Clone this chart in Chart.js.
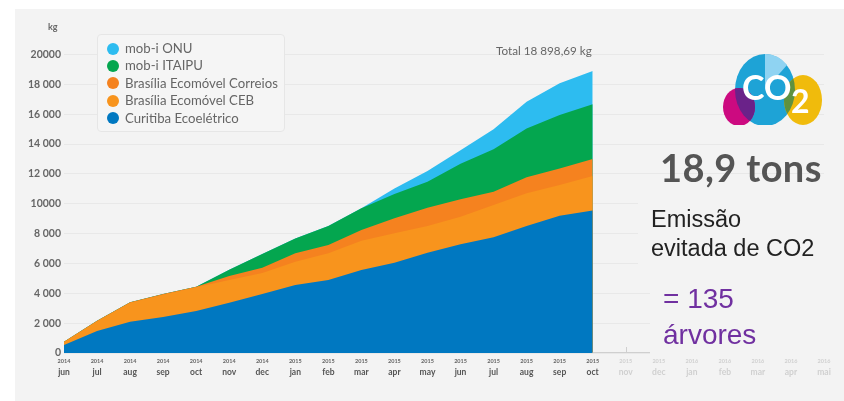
<!DOCTYPE html>
<html lang="pt">
<head>
<meta charset="utf-8">
<title>Emissão evitada de CO2</title>
<script src="https://cdn.jsdelivr.net/npm/chart.js@4"></script>
<style>
  html, body { margin: 0; padding: 0; background: #fff; }
  #page { position: relative; width: 844px; height: 401px; overflow: hidden; font-family: Lato, sans-serif; filter: blur(0.35px); }
  #panel { position: absolute; left: 15px; top: 9px; right: 0; bottom: 0; background: #f3f3f3; }
  #wrap { position: absolute; left: 0; top: 0; width: 844px; height: 401px; }
  .abs { position: absolute; white-space: nowrap; }
  #legend { position: absolute; left: 97px; top: 34px; width: 188px; height: 98px; box-sizing: border-box;
            background: #f5f5f5; border: 1px solid #e6e6e6; border-radius: 4px; padding-top: 5px; }
  #legend div { position: relative; height: 17.4px; line-height: 17.4px; padding-left: 27px; font-size: 13.2px; color: #666; white-space: nowrap; }
  #legend i { position: absolute; left: 8.5px; top: 2.7px; width: 12px; height: 12px; border-radius: 50%; }
  .cover { position: absolute; background: #f3f3f3; }
</style>
</head>
<body>
<div id="page">
  <div id="panel"></div>
  <div id="wrap"><canvas id="chart" width="844" height="401"></canvas></div>

  <div class="abs" style="left:48px;top:21px;font-size:9px;font-weight:700;color:#666">kg</div>
  <div class="abs" style="left:496px;top:43px;font-size:11.7px;color:#666">Total 18 898,69 kg</div>
  <div id="legend"></div>

  <svg class="abs" style="left:715px;top:45px" width="120" height="90" viewBox="715 45 120 90">
    <defs>
      <clipPath id="cloud"><rect x="715" y="45" width="120" height="80"/></clipPath>
      <clipPath id="inBlue"><ellipse cx="765" cy="90" rx="30" ry="36"/></clipPath>
    </defs>
    <g clip-path="url(#cloud)">
      <ellipse cx="765" cy="90" rx="30" ry="36" fill="#1ea3d6"/>
      <path d="M765 90 L765 54 A30 36 0 0 1 787 65 Z" fill="#8fd3f2"/>
      <ellipse cx="739" cy="107" rx="16" ry="19" fill="#cc0a80"/>
      <ellipse cx="803" cy="100" rx="19" ry="25" fill="#f0bb0c"/>
      <g clip-path="url(#inBlue)">
        <ellipse cx="739" cy="107" rx="16" ry="19" fill="#6a2289"/>
        <ellipse cx="803" cy="100" rx="19" ry="25" fill="#5f9140"/>
      </g>
    </g>
    <text x="742" y="100" font-family="Lato, sans-serif" font-size="34" font-weight="700" fill="#fff">CO</text>
    <text x="791" y="113" font-family="Lato, sans-serif" font-size="32" font-weight="700" fill="#fff">2</text>
  </svg>

  <div class="abs" style="left:660px;top:144px;font-size:38px;font-weight:700;letter-spacing:.4px;color:#555">18,9 tons</div>

  <div class="cover" style="left:638px;top:195px;width:194px;height:73px"></div>
  <div class="cover" style="left:650px;top:272px;width:180px;height:86px"></div>
  <div class="abs" style="left:651px;top:205px;font:23.5px/29px 'Liberation Sans', sans-serif;color:#222">Emissão<br>evitada de CO2</div>
  <div class="abs" style="left:663px;top:281px;font:28px/36px 'Liberation Sans', sans-serif;color:#7030a0">= 135<br>árvores</div>
</div>

<script>
const months = ['jun','jul','aug','sep','oct','nov','dec','jan','feb','mar','apr','may','jun','jul','aug','sep','oct','nov','dec','jan','feb','mar','apr','mai'];
const years = ['2014','2014','2014','2014','2014','2014','2014','2015','2015','2015','2015','2015','2015','2015','2015','2015','2015','2015','2015','2016','2016','2016','2016','2016'];
const yTickLabels = ['0','2 000','4 000','6 000','8 000','10000','12 000','14 000','16 000','18 000','20000'];

const curitiba = [535,1470,2100,2410,2810,3370,3950,4555,4890,5560,6050,6720,7280,7750,8510,9200,9540];
const ceb = [205,660,1260,1500,1590,1520,1415,1565,1790,1965,1970,1790,1850,2170,2190,2060,2320];
const correios = [20,30,40,40,40,270,350,560,560,715,1005,1225,1170,890,1070,1110,1140];
const itaipu = [0,0,0,0,0,410,915,1000,1270,1455,1625,1745,2380,2840,3280,3580,3660];
const onu = [0,0,0,0,0,0,0,0,0,10,380,720,900,1340,1790,2120,2238];

// top of the stack first, as in the legend
const legendNames = ['mob-i ONU','mob-i ITAIPU','Brasília Ecomóvel Correios','Brasília Ecomóvel CEB','Curitiba Ecoelétrico'];
const legendColors = ['#2dbcf0','#04a64f','#f5821f','#f8941d','#0078c1'];

const LAST_DATA = curitiba.length - 1;

document.getElementById('legend').innerHTML = legendNames
  .map((n, i) => `<div><i style="background:${legendColors[i]}"></i>${n}</div>`).join('');

function band(values, idx) {
  return {
    label: legendNames[idx],
    data: values,
    backgroundColor: legendColors[idx],
    borderWidth: 0,
    pointRadius: 0,
    fill: true,
    tension: 0,
  };
}

// little marks on the axis for the months that have no data yet
const futureTicks = {
  id: 'futureTicks',
  afterDraw(chart) {
    const { ctx, scales } = chart;
    ctx.save();
    ctx.strokeStyle = '#cfcfcf';
    ctx.beginPath();
    ctx.moveTo(scales.x.getPixelForValue(LAST_DATA), scales.y.bottom - 0.5);
    ctx.lineTo(scales.x.right, scales.y.bottom - 0.5);
    for (let i = LAST_DATA + 1; i < months.length; i++) {
      const px = Math.round(scales.x.getPixelForValue(i)) + 0.5;
      ctx.moveTo(px, scales.y.bottom);
      ctx.lineTo(px, scales.y.bottom - 6);
    }
    ctx.stroke();
    ctx.restore();
  }
};

const tickColor = strong => c => (c.index > LAST_DATA ? '#d0d0d0' : strong);

new Chart(document.getElementById('chart'), {
  type: 'line',
  data: {
    labels: years,
    datasets: [band(curitiba, 4), band(ceb, 3), band(correios, 2), band(itaipu, 1), band(onu, 0)],
  },
  plugins: [futureTicks],
  options: {
    responsive: false,
    animation: false,
    layout: { padding: { top: 54.5, left: 0, right: 20, bottom: 22 } },
    plugins: { legend: { display: false }, tooltip: { enabled: false } },
    scales: {
      x: {
        position: 'bottom',
        stacked: true,
        offset: false,
        grid: { display: false, drawTicks: false },
        border: { display: false },
        ticks: { autoSkip: false, maxRotation: 0, padding: 5, font: { family: 'Lato', size: 5.5, weight: 'bold' }, color: tickColor('#666') },
        afterFit: s => { s.height = 13; },
      },
      months: {
        type: 'category',
        labels: months,
        position: 'bottom',
        offset: false,
        grid: { display: false, drawTicks: false },
        border: { display: false },
        ticks: { autoSkip: false, maxRotation: 0, padding: 1, font: { family: 'Lato', size: 8.5, weight: 'bold' }, color: tickColor('#555') },
        afterFit: s => { s.height = 13; },
      },
      y: {
        stacked: true,
        min: 0,
        max: 20000,
        grid: { color: '#e8e8e8', lineWidth: 1, drawTicks: false },
        border: { display: false },
        ticks: {
          stepSize: 2000,
          padding: 3,
          color: '#666',
          font: { family: 'Lato', size: 10.5, weight: 'bold' },
          callback: (v, i) => yTickLabels[i],
        },
        afterFit: s => { s.width = 64; },
      },
    },
  },
});
</script>
</body>
</html>
